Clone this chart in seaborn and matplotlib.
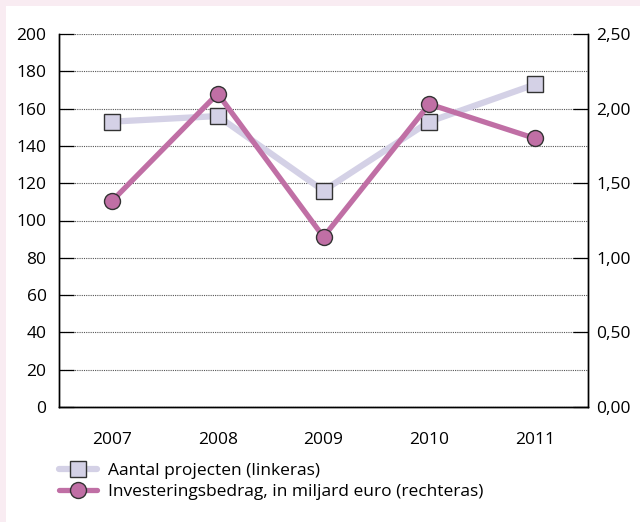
import matplotlib
matplotlib.use("Agg")
import matplotlib.pyplot as plt
import matplotlib.ticker as mticker
from matplotlib.patches import Rectangle
from matplotlib.lines import Line2D
import seaborn as sns
import pandas as pd

years = ["2007", "2008", "2009", "2010", "2011"]
aantal = [153, 156, 116, 153, 173]
invest = [1.38, 2.10, 1.14, 2.03, 1.80]
label_aantal = "Aantal projecten (linkeras)"
label_invest = "Investeringsbedrag, in miljard euro (rechteras)"

c_aantal = "#d4d1e6"
c_invest = "#c06fa5"
edge = "#333333"
fs = 12.5

sns.set_theme(style="white")
plt.rcParams["font.family"] = ["Open Sans", "DejaVu Sans"]
plt.rcParams["font.size"] = fs
plt.rcParams["text.color"] = "black"
plt.rcParams["xtick.color"] = "black"
plt.rcParams["ytick.color"] = "black"

df = pd.DataFrame({"year": years, "aantal": aantal, "invest": invest})

fig = plt.figure(figsize=(6.4, 5.22), dpi=100, facecolor="#f9ecf2")
fig.patches.append(Rectangle((6/640, 0), 1, 1 - 6/522, transform=fig.transFigure,
                             facecolor="white", edgecolor="none", zorder=-10))
ax = fig.add_axes([59/640, 1 - 407/522, (588-59)/640, (407-34)/522])
ax.set_facecolor("none")

sns.lineplot(data=df, x="year", y="aantal", ax=ax, color=c_aantal, lw=4.5,
             marker="s", markersize=11, markerfacecolor=c_aantal,
             markeredgecolor=edge, markeredgewidth=1.0, sort=False)
ax2 = ax.twinx()
ax2.set_facecolor("none")
sns.lineplot(data=df, x="year", y="invest", ax=ax2, color=c_invest, lw=3.8,
             marker="o", markersize=11.5, markerfacecolor=c_invest,
             markeredgecolor=edge, markeredgewidth=1.0, sort=False)

ax.set_xlim(-0.5, 4.5)
ax.set_ylim(0, 200)
ax2.set_ylim(0, 2.5)
ax.set_yticks(range(0, 201, 20))
ax2.set_yticks([0, 0.5, 1.0, 1.5, 2.0, 2.5])
ax2.yaxis.set_major_formatter(mticker.FuncFormatter(lambda v, p: f"{v:.2f}".replace(".", ",")))
ax.set_xlabel("")
ax.set_ylabel("")
ax2.set_ylabel("")

ax.set_xticks(range(len(years)))
ax.set_xticklabels(years)
ax.set_xticks([0.5, 1.5, 2.5, 3.5], minor=True)
ax.tick_params(axis="x", which="major", length=0, pad=18, labelsize=fs, colors="black")
ax.tick_params(axis="x", which="minor", direction="in", length=10, width=0.9, color="black")
ax.tick_params(axis="y", direction="in", length=11, width=0.9, color="black",
               labelsize=fs, pad=9)
ax2.tick_params(axis="y", direction="in", length=11, width=0.9, color="black",
                labelsize=fs, pad=6)

for a in (ax, ax2):
    a.spines["top"].set_visible(False)
    for s in ("left", "right", "bottom"):
        a.spines[s].set_color("black")
        a.spines[s].set_linewidth(1.0)
ax.grid(axis="y", linestyle=(0, (1, 1)), color="#555555", linewidth=0.8)
ax.grid(axis="x", visible=False)
ax2.grid(False)
ax.set_axisbelow(True)

if ax.get_legend():
    ax.get_legend().remove()
if ax2.get_legend():
    ax2.get_legend().remove()

handles = [
    Line2D([], [], color=c_aantal, lw=4.5, marker="s", markersize=11,
           markerfacecolor=c_aantal, markeredgecolor=edge, markeredgewidth=1.0),
    Line2D([], [], color=c_invest, lw=3.8, marker="o", markersize=11.5,
           markerfacecolor=c_invest, markeredgecolor=edge, markeredgewidth=1.0),
]
fig.legend(handles, [label_aantal, label_invest], loc="upper left",
           bbox_to_anchor=(52/640, 1 - 456/522), frameon=False, fontsize=fs,
           handlelength=2.2, handletextpad=0.6, labelspacing=0.25, borderaxespad=0,
           labelcolor="black")

fig.savefig("out.png", dpi=100, facecolor=fig.get_facecolor())
